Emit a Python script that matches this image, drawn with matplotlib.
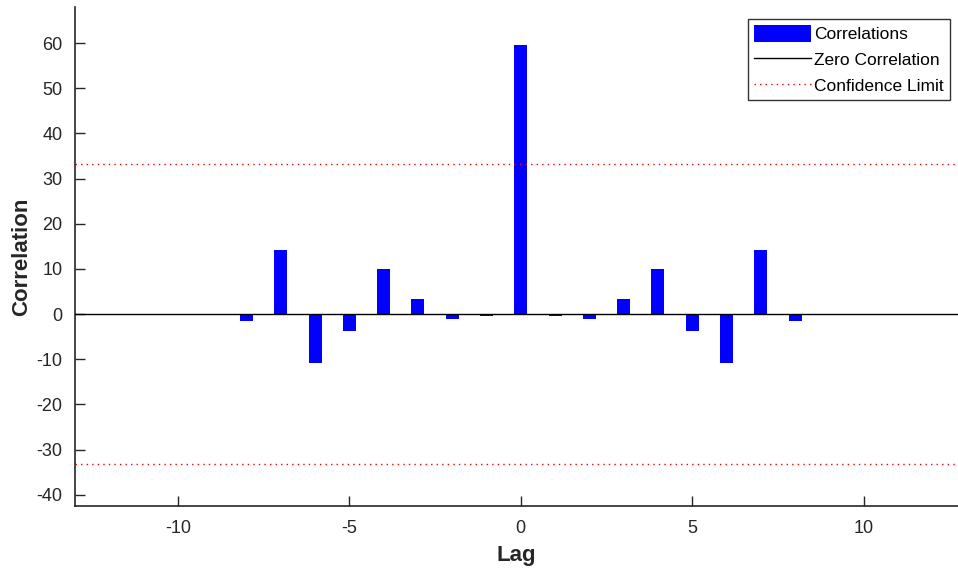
import numpy as np
import matplotlib
matplotlib.use("Agg")
import matplotlib.pyplot as plt

# Cross-correlation values
lags = [-8, -7, -6, -5, -4, -3, -2, -1, 0, 1, 2, 3, 4, 5, 6, 7, 8]
corr = [-1.6, 14.2, -10.8, -3.7, 10.0, 3.3, -1.2, -0.5, 59.5,
        -0.5, -1.2, 3.3, 10.0, -3.7, -10.8, 14.2, -1.6]
conf_limit = 33.2
x_ticks = [-10, -5, 0, 5, 10]
y_ticks = [-40, -30, -20, -10, 0, 10, 20, 30, 40, 50, 60]

plt.rcParams['font.family'] = ['Liberation Sans', 'DejaVu Sans']
plt.rcParams['axes.unicode_minus'] = False

fig = plt.figure(figsize=(9.58, 5.76), dpi=100)
ax = fig.add_axes([75 / 958, 70 / 576, 1 - 75 / 958, 499 / 576])

bars = ax.bar(lags, corr, width=0.38, color='#0000ff', zorder=2)
zero = ax.axhline(0, color='black', lw=1.0, zorder=3)
conf = ax.axhline(conf_limit, color='red', lw=1.0, ls=(0, (1, 3)))
ax.axhline(-conf_limit, color='red', lw=1.0, ls=(0, (1, 3)))

ax.set_xlim(-13, 12.75)
ax.set_ylim(-42.5, 68)
ax.set_xticks(x_ticks)
ax.set_yticks(y_ticks)
ax.tick_params(direction='in', length=7, width=1, colors='#262626', labelsize=13, pad=9)
ax.tick_params(axis='x', pad=10)
for sp in ['top', 'right']:
    ax.spines[sp].set_visible(False)
for sp in ['left', 'bottom']:
    ax.spines[sp].set_linewidth(1.2)
    ax.spines[sp].set_color('#262626')

ax.set_xlabel('Lag', fontsize=16, fontweight='bold', color='#262626', labelpad=6)
ax.set_ylabel('Correlation', fontsize=16, fontweight='bold', color='#262626', labelpad=3)

leg = ax.legend([bars, zero, conf], ['Correlations', 'Zero Correlation', 'Confidence Limit'],
                loc='upper right', bbox_to_anchor=(0.991, 0.976), fancybox=False,
                edgecolor='#333333', framealpha=1, fontsize=12.5, handlelength=3.3,
                handleheight=1.1, borderpad=0.35, labelspacing=0.5, handletextpad=0.2,
                borderaxespad=0)
leg.get_frame().set_linewidth(1.0)

fig.savefig('out.png', dpi=100)
